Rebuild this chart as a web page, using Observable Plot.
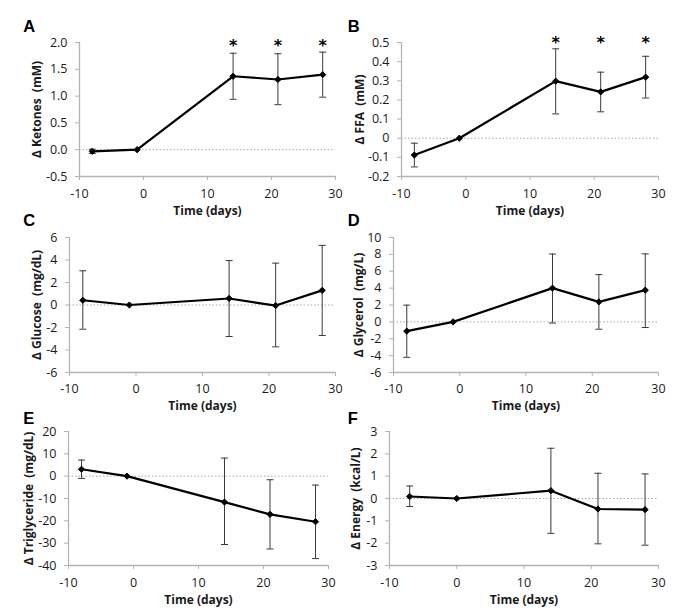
<!DOCTYPE html>
<html><head><meta charset="utf-8">
<script src="https://cdn.jsdelivr.net/npm/d3@7"></script>
<script src="https://cdn.jsdelivr.net/npm/@observablehq/plot@0.6"></script>
<style>
body{margin:0;background:#fff;}
#wrap{position:relative;width:683px;height:614px;overflow:hidden;background:#fff;}
#wrap svg{position:absolute;overflow:visible;}
</style></head><body><div id="wrap"></div>
<script>
// ---- data ----
const days = [-8, -1, 14, 21, 28];
const daysEnergy = [-7, 0, 14, 21, 28];
const xTicks = [-10, 0, 10, 20, 30];

const ketones   = [-0.03, 0, 1.37, 1.31, 1.40];
const ketonesLo = [-0.07, 0, 0.94, 0.84, 0.98];
const ketonesHi = [0.01, 0, 1.80, 1.79, 1.82];
const ketonesTicks = [-0.5, 0, 0.5, 1.0, 1.5, 2.0];
const ketonesStars = [14, 21, 28];

const ffa   = [-0.088, 0, 0.298, 0.242, 0.319];
const ffaLo = [-0.15, 0, 0.127, 0.138, 0.21];
const ffaHi = [-0.026, 0, 0.467, 0.345, 0.428];
const ffaTicks = [-0.2, -0.1, 0, 0.1, 0.2, 0.3, 0.4, 0.5];
const ffaStars = [14, 21, 28];

const glucose   = [0.42, 0, 0.58, -0.05, 1.3];
const glucoseLo = [-2.15, 0, -2.8, -3.72, -2.71];
const glucoseHi = [3.04, 0, 3.95, 3.72, 5.3];
const glucoseTicks = [-6, -4, -2, 0, 2, 4, 6];

const glycerol   = [-1.1, 0, 4.0, 2.37, 3.76];
const glycerolLo = [-4.2, 0, -0.14, -0.87, -0.67];
const glycerolHi = [1.98, 0, 8.04, 5.6, 8.06];
const glycerolTicks = [-6, -4, -2, 0, 2, 4, 6, 8, 10];

const trig   = [3.1, 0, -11.6, -17.1, -20.4];
const trigLo = [-1.0, 0, -30.6, -32.6, -36.9];
const trigHi = [7.2, 0, 8.1, -1.6, -4.0];
const trigTicks = [-40, -30, -20, -10, 0, 10, 20];

const energy   = [0.09, 0, 0.35, -0.47, -0.5];
const energyLo = [-0.36, 0, -1.56, -2.03, -2.09];
const energyHi = [0.56, 0, 2.25, 1.13, 1.1];
const energyTicks = [-3, -2, -1, 0, 1, 2, 3];

// ---- panels (layout) ----
const panels = [
  {letter:"A", label:"Δ Ketones  (mM)", x:days, y:ketones, lo:ketonesLo, hi:ketonesHi, ticks:ketonesTicks,
   fmt:d=>d.toFixed(1), stars:ketonesStars, starDy:8.5,
   left:0, top:0, w:345, h:215, mL:79, mR:10, mT:42, mB:39, yl:42, xl:35, tp:9, lx:22.7, lb:31.7},
  {letter:"B", label:"Δ FFA  (mM)", x:days, y:ffa, lo:ffaLo, hi:ffaHi, ticks:ffaTicks,
   fmt:d=>Math.abs(d)<1e-9?"0":d.toFixed(1), stars:ffaStars, starDy:5.7,
   left:340, top:0, w:343, h:215, mL:61, mR:25, mT:42, mB:39, yl:41, xl:35, tp:9, lx:347.3, lb:31.7},
  {letter:"C", label:"Δ Glucose  (mg/dL)", x:days, y:glucose, lo:glucoseLo, hi:glucoseHi, ticks:glucoseTicks,
   fmt:d=>String(d), stars:[],
   left:0, top:215, w:345, h:195, mL:69, mR:10, mT:22, mB:38, yl:32, xl:34, tp:7.5, lx:22.7, lb:225.3},
  {letter:"D", label:"Δ Glycerol  (mg/L)", x:days, y:glycerol, lo:glycerolLo, hi:glycerolHi, ticks:glycerolTicks,
   fmt:d=>String(d), stars:[],
   left:340, top:215, w:343, h:195, mL:53, mR:25, mT:22, mB:38, yl:34, xl:34, tp:7.5, lx:347.3, lb:225.3},
  {letter:"E", label:"Δ Triglyceride  (mg/dL)", x:days, y:trig, lo:trigLo, hi:trigHi, ticks:trigTicks,
   fmt:d=>String(d), stars:[],
   left:0, top:410, w:345, h:204, mL:68, mR:17, mT:21, mB:49, yl:39, xl:35, tp:8.5, lx:22.7, lb:423.3},
  {letter:"F", label:"Δ Energy  (kcal/L)", x:daysEnergy, y:energy, lo:energyLo, hi:energyHi, ticks:energyTicks,
   fmt:d=>String(d), stars:[],
   left:340, top:410, w:343, h:204, mL:49, mR:25, mT:21, mB:49, yl:33, xl:35, tp:8.5, lx:347.3, lb:423.3}
];

const axisGray = "#b4b4b4";
const textCol = "#1a1a1a";
const capSym = {draw(ctx){ ctx.moveTo(-3.5,0); ctx.lineTo(3.5,0); }};

const wrap = document.getElementById("wrap");
for (const p of panels) {
  const rows = p.x.map((x,i)=>({x, y:p.y[i], lo:p.lo[i], hi:p.hi[i]}));
  const bars = rows.filter(d=>d.hi!==d.lo);
  const caps = bars.flatMap(d=>[{x:d.x, y:d.lo},{x:d.x, y:d.hi}]);
  const ymin = p.ticks[0], ymax = p.ticks[p.ticks.length-1];
  const svg = Plot.plot({
    width:p.w, height:p.h, marginLeft:p.mL, marginRight:p.mR, marginTop:p.mT, marginBottom:p.mB,
    style:{background:"transparent", fontFamily:"'Open Sans', sans-serif", fontSize:"12.5px", color:textCol, overflow:"visible"},
    x:{domain:[-10,30]},
    y:{domain:[ymin,ymax]},
    marks:[
      Plot.ruleY([0], {x1:-10, x2:30, stroke:"#a8a8a8", strokeWidth:1, strokeDasharray:"1.5,2"}),
      Plot.ruleX([-10], {stroke:axisGray, strokeWidth:1.3}),
      Plot.ruleY([ymin], {stroke:axisGray, strokeWidth:1.3}),
      Plot.axisX({ticks:xTicks, tickSize:4, tickPadding:p.tp, tickFormat:d=>String(d), stroke:axisGray, fill:textCol, label:null}),
      Plot.axisY({ticks:p.ticks, tickSize:4, tickPadding:8, tickFormat:p.fmt, stroke:axisGray, fill:textCol, label:null}),
      Plot.ruleX(bars, {x:"x", y1:"lo", y2:"hi", stroke:"#3a3a3a", strokeWidth:1}),
      Plot.dot(caps, {x:"x", y:"y", symbol:capSym, r:3, fill:"none", stroke:"#3a3a3a", strokeWidth:1}),
      Plot.line(rows, {x:"x", y:"y", stroke:"#000", strokeWidth:2.2}),
      Plot.dot(rows, {x:"x", y:"y", symbol:"diamond2", r:2.8, fill:"#000", stroke:"#000", strokeWidth:1}),
      Plot.text(p.stars, {x:d=>d, y:()=>ymax, text:()=>"*", fontFamily:"'DejaVu Sans', sans-serif", fontWeight:"bold", fontSize:16, lineAnchor:"bottom", dy:p.starDy, fill:"#000"}),
      Plot.text([p.label], {frameAnchor:"left", text:d=>d, rotate:-90, textAnchor:"middle", lineAnchor:"middle", dx:-p.yl, fontWeight:"bold", fontSize:12, fill:textCol}),
      Plot.text(["Time (days)"], {frameAnchor:"bottom", text:d=>d, textAnchor:"middle", lineAnchor:"middle", dy:p.xl, fontWeight:"bold", fontSize:12, fill:textCol}),
      Plot.text([p.letter], {frameAnchor:"top-left", text:d=>d, textAnchor:"start", lineAnchor:"bottom",
        dx:p.lx - p.left - p.mL, dy:p.lb - p.top - p.mT, fontFamily:"'Liberation Sans', Arial, sans-serif", fontWeight:"bold", fontSize:16.5, fill:"#000"})
    ]
  });
  svg.style.left = p.left + "px";
  svg.style.top = p.top + "px";
  wrap.appendChild(svg);
}
</script></body></html>
